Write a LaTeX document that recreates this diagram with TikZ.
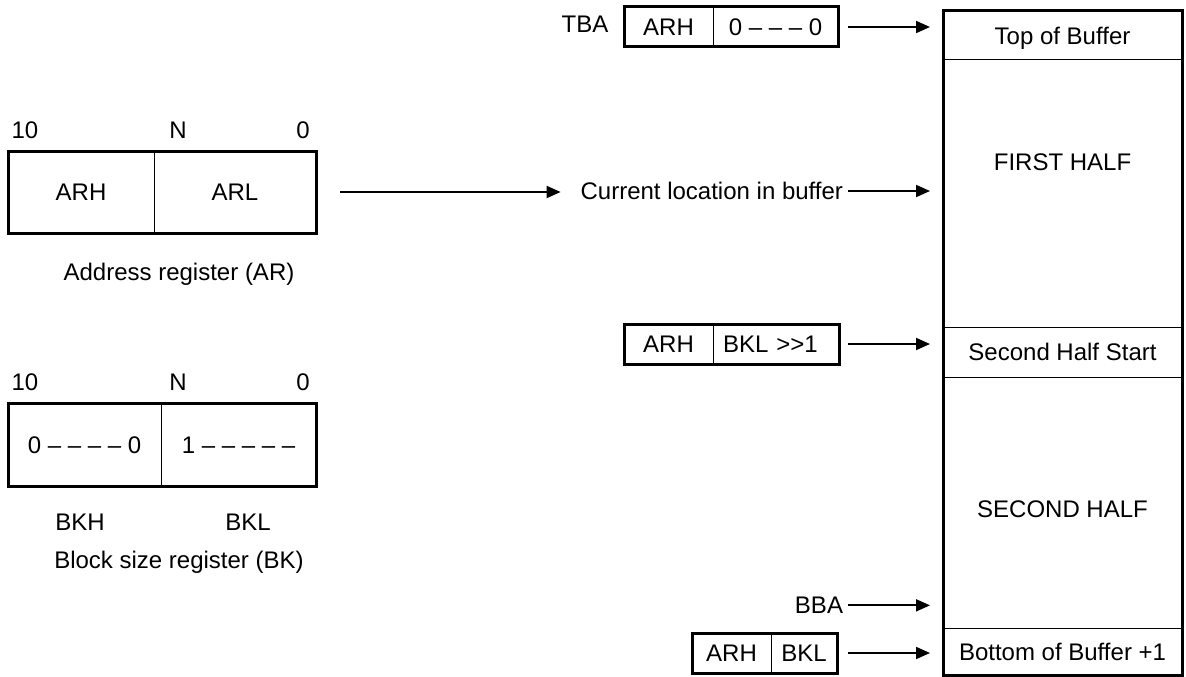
\documentclass[tikz,border=0pt]{standalone}
\usepackage{fontspec}
\setmainfont{Liberation Sans}
\usetikzlibrary{arrows.meta}
\newcommand{\dfont}{\fontsize{24}{28}\selectfont}
\begin{document}
\begin{tikzpicture}[x=1pt,y=-1pt,
  every node/.style={font=\dfont, inner sep=0pt, outer sep=0pt},
  cell/.style={draw, line width=1pt, text height=17.2pt, text depth=0pt},
  outline/.style={draw, line width=3pt, line join=miter},
  txt/.style={anchor=base},
  arr/.style={line width=1.9pt, -{Triangle[length=14pt,width=12pt]}}]
\useasboundingbox (0,0) rectangle (1186,677);

% ---------- Address register ----------
\node[cell, minimum width=146, minimum height=82] (arh) at (81,192) {ARH};
\node[cell, minimum width=162, minimum height=82] (arl) at (235,192) {ARL};
\draw[outline] (arh.north west) rectangle (arl.south east);
\node[txt] (ar10) at (25,138.6) {10};
\node[txt] (arN) at (178,138.6) {N};
\node[txt] (ar0) at (303,138.6) {0};
\node[txt] (arcap) at (179,280.6) {Address register (AR)};

% ---------- Block size register ----------
\node[cell, minimum width=153, minimum height=83] (bkh) at (84.5,444.5) {0 – – – – 0};
\node[cell, minimum width=155, minimum height=83] (bkl) at (238.5,444.5) {1 – – – – –};
\draw[outline] (bkh.north west) rectangle (bkl.south east);
\node[txt] (bk10) at (25,390.6) {10};
\node[txt] (bkN) at (178,390.6) {N};
\node[txt] (bk0) at (303,390.6) {0};
\node[txt] (bkhl) at (80,530.5) {BKH};
\node[txt] (bkll) at (248,530.5) {BKL};
\node[txt] (bkcap) at (179,568) {Block size register (BK)};

% ---------- Buffer column ----------
\node[cell, minimum width=239, minimum height=49] (top) at (1062.5,35.5) {Top of Buffer};
\node[draw, line width=1pt, minimum width=239, minimum height=267] (first) at (1062.5,193.5) {};
\node[cell, minimum width=239, minimum height=50] (shs) at (1062.5,352) {Second Half Start};
\node[draw, line width=1pt, minimum width=239, minimum height=251] (second) at (1062.5,502.5) {};
\node[cell, minimum width=239, minimum height=47] (bottom) at (1062.5,651.5) {Bottom of Buffer +1};
\draw[outline] (top.north west) rectangle (bottom.south east);
\node[txt] (firstl) at (1062.5,170.6) {FIRST HALF};
\node[txt] (secondl) at (1062.5,517.6) {SECOND HALF};

% ---------- TBA ----------
\node[txt] (tba) at (585,32.5) {TBA};
\node[cell, minimum width=89, minimum height=40] (tbaL) at (668.5,27) {ARH};
\node[cell, minimum width=125, minimum height=40] (tbaR) at (775.5,27) {0 – – – 0};
\draw[outline] (tbaL.north west) rectangle (tbaR.south east);

% ---------- Second half start pointer ----------
\node[cell, minimum width=89, minimum height=40] (shsL) at (668.5,344) {ARH};
\node[cell, minimum width=126, minimum height=40, text width=106pt, align=left] (shsR) at (776,344) {BKL >\kern0pt>1};
\draw[outline] (shsL.north west) rectangle (shsR.south east);

% ---------- Bottom pointer ----------
\node[cell, minimum width=79, minimum height=40] (botL) at (731.5,653) {ARH};
\node[cell, minimum width=66, minimum height=40] (botR) at (804,653) {BKL};
\draw[outline] (botL.north west) rectangle (botR.south east);

% ---------- Labels with arrows ----------
\node[anchor=base east] (cur) at (843,199.6) {Current location in buffer};
\node[anchor=base east] (bba) at (843,613.6) {BBA};

% ---------- Arrows ----------
\draw[arr, shorten <=24pt, shorten >=20pt] (arl.east) -- (arl.east -| cur.west);
\draw[arr, shorten <=10pt, shorten >=13pt] (tbaR.east) -- (tbaR.east -| top.west);
\draw[arr, shorten <=5pt, shorten >=13pt] (cur.east) -- (cur.east -| first.west);
\draw[arr, shorten <=9pt, shorten >=13pt] (shsR.east) -- (shsR.east -| shs.west);
\draw[arr, shorten <=5pt, shorten >=13pt] (bba.east) -- (bba.east -| second.west);
\draw[arr, shorten <=11pt, shorten >=13pt] (botR.east) -- (botR.east -| bottom.west);
\end{tikzpicture}
\end{document}
